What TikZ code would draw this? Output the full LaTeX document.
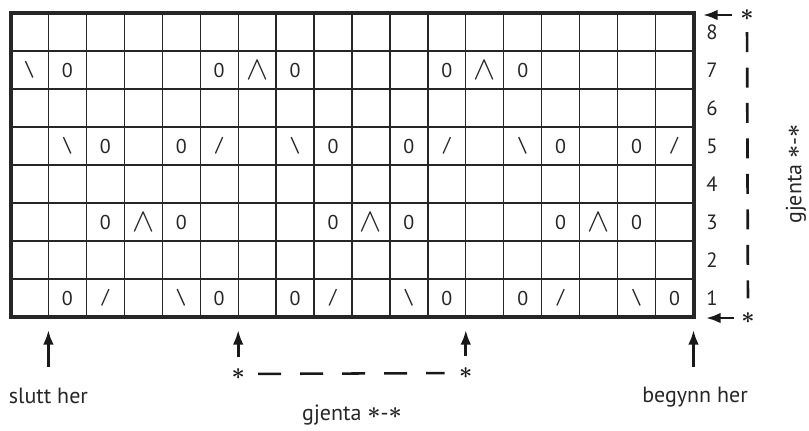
\documentclass[tikz,border=0pt]{standalone}
\usepackage{fontspec}
\setmainfont{PT Sans}
\usetikzlibrary{arrows.meta}

\newcommand\symR{/}
\newcommand\symL{\textbackslash}
\newcommand\symW{{\fontsize{29}{29}\selectfont$\wedge$}}
\newcommand\symS{{\boldmath$\ast$}}
\newcommand\rep{gjenta \raisebox{0.08em}{\symS}-\raisebox{0.08em}{\symS}}

\begin{document}
\begin{tikzpicture}[x=0.75pt,y=-0.75pt,
        cell/.style={inner sep=0pt,text=black!85},
        rownum/.style={inner sep=0pt,text=black!85,font=\fontsize{15.5}{18}\selectfont},
        lbl/.style={inner sep=0pt,anchor=base,text=black!85,font=\fontsize{16.5}{20}\selectfont},
        starsym/.style={inner sep=0pt,text=black!90,font=\fontsize{17}{17}\selectfont},
        gridline/.style={line width=0.95pt,black!85},
        border/.style={line width=3pt,black!85},
        arr/.style={line width=2pt,black!90,-{Latex[length=11pt,width=8pt]}},
        hdash/.style={line width=1.9pt,black!90,dash pattern=on 17.25pt off 14.25pt},
        vdash/.style={line width=2pt,black!90,dash pattern=on 15pt off 11.6pt}
        ]
        \fontsize{15}{18}\selectfont
        \useasboundingbox (0,0) rectangle (809,430);
        % chart
        \foreach \i in {1,...,17}
            \draw[gridline] ({10.5+37.944*\i},13) -- ({10.5+37.944*\i},317);
        \foreach \j in {1,...,7}
            \draw[gridline] (10.5,{13+38*\j}) -- (693.5,{13+38*\j});
        \draw[border] (10.5,13) rectangle (693.5,317);
        % symbols, row 7
        \foreach \c/\s in {1/\symL,2/0,6/0,7/\symW,8/0,12/0,13/\symW,14/0}
            \node[cell] (r7c\c) at ({10.5+37.944*(\c-0.5)},70) {\s};
        % row 5
        \foreach \c/\s in {2/\symL,3/0,5/0,6/\symR,8/\symL,9/0,11/0,12/\symR,14/\symL,15/0,17/0,18/\symR}
            \node[cell] (r5c\c) at ({10.5+37.944*(\c-0.5)},146) {\s};
        % row 3
        \foreach \c/\s in {3/0,4/\symW,5/0,9/0,10/\symW,11/0,15/0,16/\symW,17/0}
            \node[cell] (r3c\c) at ({10.5+37.944*(\c-0.5)},222) {\s};
        % row 1
        \foreach \c/\s in {2/0,3/\symR,5/\symL,6/0,8/0,9/\symR,11/\symL,12/0,14/0,15/\symR,17/\symL,18/0}
            \node[cell] (r1c\c) at ({10.5+37.944*(\c-0.5)},298) {\s};
        % row numbers
        \foreach \r in {1,...,8}
            \node[rownum] (n\r) at (712,{317-38*(\r-0.5)}) {\r};
        % right side: repeat rows
        \node[starsym] (rtop) at (747,15) {\symS};
        \node[starsym] (rbot) at (748,318) {\symS};
        \coordinate (rtopend) at (703,15);
        \coordinate (rbotend) at (706,318);
        \draw[arr,shorten <=6.3pt] (rtop) -- (rtopend);
        \draw[arr,shorten <=5.6pt] (rbot) -- (rbotend);
        \draw[vdash,shorten <=8.5pt,shorten >=10.5pt] (rtop) -- (rbot);
        \node[lbl,anchor=center,rotate=90] (rrep) at (796,174) {\rep};
        % bottom: start, end and repeat
        \coordinate (endtail) at (48.4,367);
        \coordinate (endhead) at (48.4,330);
        \coordinate (starthead) at (693.5,330);
        \coordinate (starttail) at (693.5,367);
        \draw[arr] (endtail) -- (endhead);
        \draw[arr] (starttail) -- (starthead);
        \node[starsym] (sleft) at (238.2,374) {\symS};
        \node[starsym] (sright) at (465.8,373) {\symS};
        \coordinate (slefthead) at (238.2,330);
        \coordinate (srighthead) at (465.8,330);
        \draw[arr,shorten <=8.3pt] (sleft) -- (slefthead);
        \draw[arr,shorten <=8.3pt] (sright) -- (srighthead);
        \draw[hdash,shorten <=9.8pt,shorten >=10.7pt] (sleft) -- (sright);
        \node[lbl] (slutt) at (48.4,403) {slutt her};
        \node[lbl] (begynn) at (695,402) {begynn her};
        \node[lbl] (brep) at (352,420) {\rep};
\end{tikzpicture}
\end{document}
